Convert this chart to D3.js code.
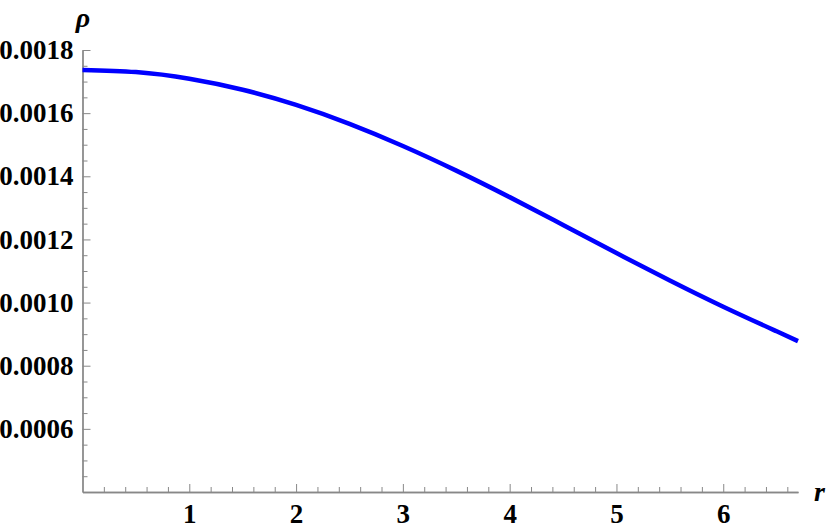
<!DOCTYPE html>
<html>
<head>
<meta charset="utf-8">
<style>
  body { margin: 0; background: #fff; }
  .axis .domain { stroke: #888; stroke-width: 1.3px; }
  .axis .tick line { stroke: #888; stroke-width: 1px; }
  .axis text { font-family: "Liberation Serif", "DejaVu Serif", serif; font-weight: bold; font-size: 27px; fill: #000; }
</style>
</head>
<body>
<svg width="830" height="530"></svg>
<script src="https://d3js.org/d3.v7.min.js"></script>
<script>

// values
var rValues   = [0, 0.5, 1, 1.5, 2, 2.5, 3, 3.5, 4, 4.5, 5, 5.5, 6, 6.5, 6.7];
var rhoValues = [0.001737, 0.001730, 0.001709, 0.001674, 0.001626, 0.001566, 0.001496,
                 0.001418, 0.001334, 0.001246, 0.001157, 0.001070, 0.000987, 0.000909, 0.000878];
var xTicks = [1, 2, 3, 4, 5, 6];
var yTicks = [0.0006, 0.0008, 0.0010, 0.0012, 0.0014, 0.0016, 0.0018];

var svg = d3.select("svg");

var x = d3.scaleLinear().domain([0, 6.7]).range([82.5, 798]);
var y = d3.scaleLinear().domain([0.0004, 0.0018]).range([492, 50]);

// minor ticks
var xMinor = d3.range(0, 6.71, 0.2).filter(function(d) { return Math.abs(d - Math.round(d)) > 0.01; });
var yMinor = d3.range(0.0004, 0.00181, 0.00005).filter(function(d) {
  return Math.abs(d / 0.0002 - Math.round(d / 0.0002)) > 0.01;
});

svg.append("g")
    .attr("class", "axis")
    .attr("transform", "translate(0," + y.range()[0] + ")")
    .call(d3.axisBottom(x).tickValues(xMinor).tickSize(-5).tickSizeOuter(0).tickFormat(""));

svg.append("g")
    .attr("class", "axis")
    .attr("transform", "translate(0," + y.range()[0] + ")")
    .call(d3.axisBottom(x).tickValues(xTicks).tickSize(-8).tickSizeOuter(0).tickPadding(12)
      .tickFormat(d3.format("d")));

svg.append("g")
    .attr("class", "axis")
    .attr("transform", "translate(" + x.range()[0] + ",0)")
    .call(d3.axisLeft(y).tickValues(yMinor).tickSize(-5).tickSizeOuter(0).tickFormat(""));

svg.append("g")
    .attr("class", "axis")
    .attr("transform", "translate(" + x.range()[0] + ",0)")
    .call(d3.axisLeft(y).tickValues(yTicks).tickSize(-8).tickSizeOuter(0).tickPadding(9)
      .tickFormat(d3.format(".4f")));

// the curve
var line = d3.line()
    .x(function(d) { return x(d[0]); })
    .y(function(d) { return y(d[1]); })
    .curve(d3.curveNatural);

svg.append("path")
    .datum(d3.zip(rValues, rhoValues))
    .attr("fill", "none")
    .attr("stroke", "#0000ff")
    .attr("stroke-width", 4.5)
    .attr("d", line);

// axis labels
svg.append("text")
    .attr("x", 83)
    .attr("y", 27)
    .attr("text-anchor", "middle")
    .attr("font-family", "Liberation Serif, serif")
    .attr("font-style", "italic")
    .attr("font-weight", "bold")
    .attr("font-size", 28)
    .text("ρ");

svg.append("text")
    .attr("x", 814)
    .attr("y", 501)
    .attr("font-family", "Liberation Serif, serif")
    .attr("font-style", "italic")
    .attr("font-weight", "bold")
    .attr("font-size", 28)
    .text("r");

</script>
</body>
</html>
